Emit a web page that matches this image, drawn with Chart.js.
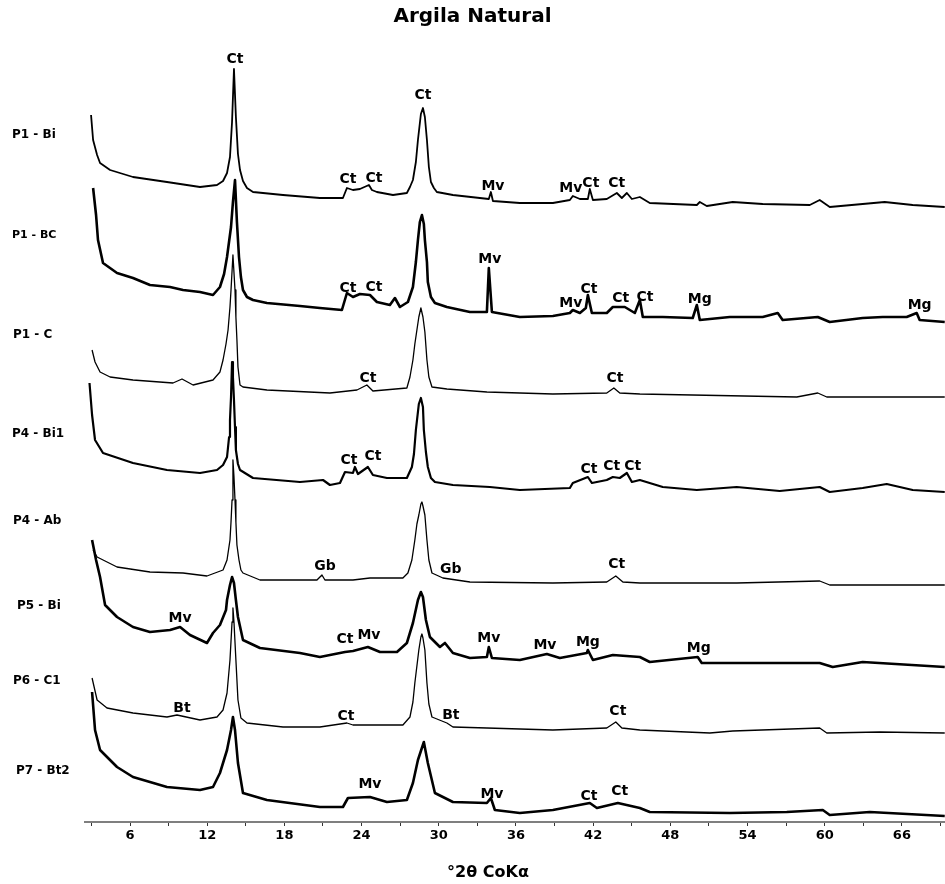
<!DOCTYPE html>
<html>
<head>
<meta charset="utf-8">
<title>Argila Natural</title>
<script src="https://cdn.jsdelivr.net/npm/chart.js@4.4.1/dist/chart.umd.min.js"></script>
<style>html,body{margin:0;padding:0;background:#fff}</style>
</head>
<body>
<canvas id="c" width="945" height="884"></canvas>
<script>
// DRX - argila natural, difratogramas empilhados (°2θ CoKα, contagens deslocadas)
const SAMPLES = ["P1 - Bi","P1 - BC","P1 - C","P4 - Bi1","P4 - Ab","P5 - Bi","P6 - C1","P7 - Bt2"];
const X_TICKS = [3,6,9,12,15,18,21,24,27,30,33,36,39,42,45,48,51,54,57,60,63,66,69];

const P1_BI = [[2.97,707],[3.13,682],[3.44,667],[3.67,659],[4.45,652],[6.23,645],[8.87,640],[11.44,635],[12.76,637],[13.23,641],[13.54,649],[13.77,665],[13.93,700],[14.08,753],[14.23,705],[14.39,668],[14.55,652],[14.78,641],[15.09,634],[15.56,630],[17.89,627],[20.76,624],[22.55,624],[22.86,634],[23.33,632],[23.87,633],[24.57,637],[24.80,632],[25.19,630],[26.44,627],[27.52,629],[27.76,635],[27.99,642],[28.22,660],[28.38,682],[28.61,708],[28.77,714],[28.92,705],[29.08,682],[29.23,655],[29.39,640],[29.62,634],[29.85,630],[31.10,627],[33.89,623],[34.05,630],[34.21,621],[36.30,619],[38.87,619],[40.19,622],[40.42,626],[40.97,623],[41.59,623],[41.74,633],[41.98,622],[43.06,623],[43.84,629],[44.23,624],[44.62,629],[45.01,623],[45.63,625],[46.40,619],[50.06,617],[50.29,620],[50.83,616],[52.85,620],[55.18,618],[58.84,617],[59.61,622],[60.39,615],[62.95,618],[64.66,620],[66.84,617],[69.33,615]];
const P1_BC = [[3.13,634],[3.36,607],[3.51,582],[3.90,559],[4.99,549],[6.23,544],[7.55,537],[9.11,535],[10.12,532],[11.44,530],[12.45,527],[12.99,535],[13.31,548],[13.54,565],[13.85,595],[14.00,620],[14.16,642],[14.31,600],[14.47,565],[14.62,545],[14.78,532],[15.09,525],[15.56,522],[16.64,519],[19.21,516],[20.76,514],[22.47,512],[22.86,529],[23.33,525],[23.87,528],[24.65,527],[25.19,520],[26.20,517],[26.59,524],[26.98,515],[27.60,520],[27.99,535],[28.22,560],[28.38,582],[28.53,600],[28.69,607],[28.84,598],[28.92,582],[29.08,560],[29.15,540],[29.39,525],[29.70,519],[30.63,515],[32.42,510],[33.74,510],[33.89,554],[34.13,510],[36.30,505],[38.87,506],[40.19,509],[40.42,512],[40.97,509],[41.43,514],[41.59,527],[41.90,509],[43.06,509],[43.53,515],[44.46,515],[45.24,509],[45.63,522],[45.86,505],[47.41,505],[49.74,504],[50.06,517],[50.29,502],[52.62,505],[55.18,505],[56.35,509],[56.73,502],[59.46,505],[60.39,500],[62.95,504],[64.51,505],[66.37,505],[67.15,509],[67.38,502],[69.33,500]];
const P1_C = [[3.05,472],[3.28,460],[3.67,450],[4.45,445],[6.23,442],[9.34,439],[10.04,443],[10.90,437],[12.45,442],[12.99,450],[13.23,462],[13.46,478],[13.62,492],[13.77,515],[13.85,532],[14.00,567],[14.16,532],[14.23,505],[14.31,482],[14.39,455],[14.55,437],[14.78,435],[16.64,432],[21.54,429],[23.64,432],[24.41,437],[24.88,431],[27.52,434],[27.76,445],[27.99,462],[28.14,478],[28.30,492],[28.45,505],[28.61,514],[28.77,505],[28.92,490],[29.08,462],[29.23,445],[29.47,435],[30.63,433],[33.74,430],[38.87,428],[43.06,429],[43.61,434],[44.07,429],[45.63,428],[57.83,425],[59.46,429],[60.16,425],[69.33,425]];
const P4_BI1 = [[2.85,439],[3.05,407],[3.28,382],[3.90,369],[6.23,359],[8.87,352],[11.44,349],[12.76,352],[13.23,357],[13.54,365],[13.70,385],[13.77,402],[13.85,425],[13.93,460],[14.00,445],[14.08,422],[14.16,395],[14.23,372],[14.39,358],[14.55,352],[15.56,344],[19.21,340],[21.00,342],[21.54,337],[22.32,339],[22.71,350],[23.33,349],[23.48,355],[23.72,348],[24.49,355],[24.88,347],[25.97,344],[27.52,344],[27.91,355],[28.07,368],[28.22,392],[28.45,418],[28.61,424],[28.77,415],[28.84,392],[29.00,370],[29.15,355],[29.39,344],[29.70,340],[31.10,337],[33.97,335],[36.30,332],[40.19,334],[40.42,339],[41.59,345],[41.90,339],[43.06,342],[43.53,345],[44.07,344],[44.62,349],[45.01,340],[45.63,342],[47.41,335],[50.06,332],[53.16,335],[56.50,331],[59.61,335],[60.39,330],[62.95,334],[64.82,338],[66.84,332],[69.33,330]];
const P4_AB = [[3.13,272],[3.44,265],[4.99,255],[7.55,250],[10.12,249],[11.98,246],[13.23,252],[13.54,262],[13.77,282],[13.85,300],[13.93,322],[14.00,362],[14.08,345],[14.16,322],[14.23,300],[14.31,277],[14.47,262],[14.62,252],[14.78,249],[16.10,242],[20.53,242],[20.92,247],[21.15,242],[23.33,242],[24.65,244],[27.21,244],[27.60,249],[27.91,262],[28.14,282],[28.30,298],[28.45,307],[28.61,318],[28.69,320],[28.77,316],[28.92,307],[29.08,282],[29.23,262],[29.47,249],[30.32,244],[32.42,240],[38.87,239],[43.06,240],[43.76,246],[44.31,240],[45.63,239],[53.16,239],[59.61,241],[60.39,237],[69.33,237]];
const P5_BI = [[3.05,282],[3.36,262],[3.67,245],[4.06,217],[4.99,205],[6.23,195],[7.55,190],[9.11,192],[9.89,195],[10.66,187],[11.98,179],[12.45,189],[12.99,197],[13.46,212],[13.54,222],[13.77,237],[13.93,245],[14.08,239],[14.23,222],[14.39,205],[14.78,182],[16.10,174],[19.21,169],[20.76,165],[22.71,170],[23.33,171],[24.49,175],[25.43,170],[26.75,170],[27.52,179],[27.99,199],[28.38,222],[28.61,230],[28.77,225],[29.00,202],[29.31,185],[30.09,175],[30.48,179],[31.10,169],[32.42,164],[33.74,165],[33.89,175],[34.13,164],[36.30,162],[38.40,168],[39.41,164],[41.51,169],[41.59,172],[41.98,162],[43.53,167],[45.63,165],[46.40,160],[50.13,165],[50.44,159],[55.18,159],[59.61,159],[60.62,155],[62.95,160],[69.33,155]];
const P6_C1 = [[3.05,144],[3.44,122],[4.21,114],[6.23,109],[8.87,105],[9.65,107],[11.44,102],[12.76,105],[13.23,112],[13.54,129],[13.77,162],[13.93,200],[14.00,214],[14.08,200],[14.23,162],[14.39,122],[14.62,104],[15.09,99],[17.89,95],[20.76,95],[22.86,99],[23.33,97],[27.21,97],[27.76,105],[27.99,120],[28.14,139],[28.45,172],[28.61,185],[28.69,188],[28.77,184],[28.92,172],[29.08,139],[29.23,118],[29.47,105],[30.63,99],[31.10,95],[33.74,94],[38.87,92],[43.06,94],[43.76,100],[44.23,94],[45.63,92],[51.07,89],[52.85,91],[59.61,94],[60.16,89],[64.28,90],[69.33,89]];
const P7_BT2 = [[3.05,130],[3.28,92],[3.67,72],[4.99,55],[6.23,45],[8.87,35],[11.44,32],[12.45,35],[12.99,49],[13.54,72],[13.85,92],[14.00,105],[14.16,92],[14.39,59],[14.78,29],[16.64,22],[20.76,15],[22.55,15],[22.94,24],[24.65,25],[25.97,20],[27.52,22],[27.99,39],[28.38,62],[28.84,80],[29.15,59],[29.70,29],[31.10,20],[33.74,19],[34.05,24],[34.36,12],[36.30,9],[38.87,12],[41.74,19],[42.29,14],[43.92,19],[45.63,14],[46.40,10],[52.62,9],[57.05,10],[59.85,12],[60.39,7],[63.50,10],[69.33,6]];

const SERIES = [P1_BI, P1_BC, P1_C, P4_BI1, P4_AB, P5_BI, P6_C1, P7_BT2];

// fases identificadas: [rótulo, °2θ, nível]
const PEAKS = [
  ["Ct",14.16,759],
  ["Ct",22.94,639],["Ct",24.96,640],["Ct",28.77,723],["Mv",34.21,632],["Mv",40.27,630],["Ct",41.82,635],["Ct",43.84,635],
  ["Ct",22.94,530],["Ct",24.96,531],["Mv",33.97,559],["Mv",40.27,515],["Ct",41.67,529],["Ct",44.15,520],["Ct",46.02,521],["Mg",50.29,519],["Mg",67.38,513],
  ["Ct",24.49,440],["Ct",43.69,440],
  ["Ct",23.02,358],["Ct",24.88,362],["Ct",41.67,349],["Ct",43.45,352],["Ct",45.08,352],
  ["Gb",21.15,252],["Gb",30.94,249],["Ct",43.84,254],
  ["Mv",9.89,200],["Ct",22.71,179],["Mv",24.57,183],["Mv",33.89,180],["Mv",38.25,173],["Mg",41.59,176],["Mg",50.21,170],
  ["Bt",10.04,110],["Ct",22.78,102],["Bt",30.94,103],["Ct",43.92,107],
  ["Mv",24.65,34],["Mv",34.13,24],["Ct",41.67,22],["Ct",44.07,27]
];
const SAMPLE_LEVELS = [684,584,484,385,298,213,138,48];

const FONT = "'DejaVu Sans', sans-serif";
const WIDTHS = [1.8,2.6,1.3,2.2,1.3,2.6,1.3,2.6];
const ROW_X = [12,12,13,12,13,17,13,16];

const annotPlugin = {
  id: "annot",
  afterDatasetsDraw(chart){
    const {ctx, scales:{x, y}} = chart;
    ctx.save();
    ctx.fillStyle = "#000";
    ctx.textBaseline = "alphabetic";
    ctx.textAlign = "center";
    ctx.font = "bold 14px " + FONT;
    for (const [t, th, lv] of PEAKS) ctx.fillText(t, x.getPixelForValue(th), y.getPixelForValue(lv));
    ctx.textAlign = "left";
    SAMPLES.forEach((s, i) => {
      ctx.font = "bold " + (i === 1 ? 11 : 12) + "px " + FONT;
      ctx.fillText(s, ROW_X[i], y.getPixelForValue(SAMPLE_LEVELS[i]));
    });
    ctx.textAlign = "center";
    ctx.font = "bold 16px " + FONT;
    ctx.fillText("°2θ CoKα", 488, 877);
    ctx.restore();
  }
};

new Chart(document.getElementById("c"), {
  type: "line",
  data: {
    datasets: SERIES.map((s, i) => ({
      label: SAMPLES[i],
      data: s.map(p => ({x: p[0], y: p[1]})),
      borderColor: "#000",
      borderWidth: WIDTHS[i],
      pointRadius: 0,
      tension: 0,
      fill: false,
      borderJoinStyle: "round"
    }))
  },
  options: {
    responsive: false,
    animation: false,
    layout: { padding: 0 },
    plugins: {
      legend: { display: false },
      tooltip: { enabled: false },
      title: {
        display: true,
        text: "Argila Natural",
        color: "#000",
        font: { family: FONT, size: 20, weight: "bold" },
        padding: { top: 5, bottom: 11 }
      }
    },
    scales: {
      x: {
        type: "linear",
        min: 2.5, max: 69.35,
        afterBuildTicks: (s) => { s.ticks = X_TICKS.map(v => ({ value: v })); },
        afterFit: (s) => { s.height = 62; },
        ticks: {
          autoSkip: false, maxRotation: 0, padding: 2, color: "#000",
          font: { family: FONT, size: 13, weight: "bold" },
          callback: (v) => (v % 6 === 0 ? String(v) : "")
        },
        grid: { drawOnChartArea: false, drawTicks: true, tickLength: 4, color: "#333", lineWidth: 1 },
        border: { display: true, color: "#7f7f7f", width: 2 }
      },
      y: {
        min: 0, max: 782,
        afterFit: (s) => { s.width = 85; },
        ticks: { display: false },
        grid: { display: false },
        border: { display: false }
      }
    }
  },
  plugins: [annotPlugin]
});
</script>
</body>
</html>
